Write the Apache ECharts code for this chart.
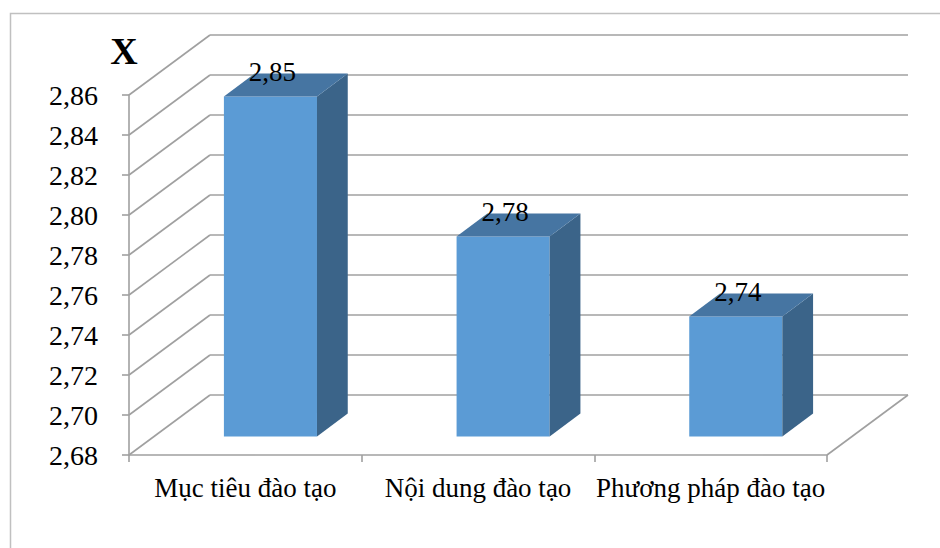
<!DOCTYPE html>
<html lang="vi">
<head>
    <meta charset="UTF-8">
    <title>Điểm trung bình</title>
    <script src="https://cdn.jsdelivr.net/npm/echarts/dist/echarts.min.js"></script>
    <style type="text/css">
        html, body { margin: 0; padding: 0; background: #fff; }
        #main { width: 940px; height: 548px; }
    </style>
</head>
<body>
<div id="main"></div>
<script>
    // du lieu
    var categories = ['Mục tiêu đào tạo', 'Nội dung đào tạo', 'Phương pháp đào tạo'];
    var scores = [2.85, 2.78, 2.74];
    var yTicks = [2.68, 2.70, 2.72, 2.74, 2.76, 2.78, 2.80, 2.82, 2.84, 2.86];

    // phep chieu 3D gia lap (do sau tinh bang pixel)
    var depthX = 81, depthY = -60;
    var barZ0 = 0.31, barZ1 = 0.69, barRatio = 0.4;
    var gridColor = '#a0a0a0';
    var fontFamily = 'Liberation Serif';

    function fmt(v) {
        return Number(v).toFixed(2).replace('.', ',');
    }

    var myChart = echarts.init(document.getElementById('main'), null, {renderer: 'svg'});

    // luoi: vach trai + tuong sau + san
    function renderWall(params, api) {
        var cs = params.coordSys;
        var v = api.value(1);
        var y = api.coord([0, v])[1];
        var x0 = cs.x, x1 = cs.x + cs.width;
        var style = {stroke: gridColor, lineWidth: 1.6, fill: null};
        var children = [
            {type: 'line', shape: {x1: x0, y1: y, x2: x0 + depthX, y2: y + depthY}, style: style},
            {type: 'line', shape: {x1: x0 + depthX, y1: y + depthY, x2: x1 + depthX, y2: y + depthY}, style: style}
        ];
        if (params.dataIndex === 0) {
            children.push({type: 'line', shape: {x1: x1, y1: y, x2: x1 + depthX, y2: y + depthY}, style: style});
        }
        return {type: 'group', children: children};
    }

    // cot 3D
    function renderBar(params, api) {
        var i = api.value(0);
        var v = api.value(1);
        var top = api.coord([i, v]);
        var base = api.coord([i, yTicks[0]]);
        var bw = api.size([1, 0])[0] * barRatio;
        var fx = top[0] - bw / 2 + depthX * barZ0;
        var fTop = top[1] + depthY * barZ0;
        var fBot = base[1] + depthY * barZ0;
        var ddx = depthX * (barZ1 - barZ0), ddy = depthY * (barZ1 - barZ0);
        return {
            type: 'group',
            children: [
                {type: 'rect', shape: {x: fx, y: fTop, width: bw, height: fBot - fTop},
                    style: {fill: '#5b9bd5'}},
                {type: 'polygon', shape: {points: [[fx + bw, fTop], [fx + bw + ddx, fTop + ddy],
                        [fx + bw + ddx, fBot + ddy], [fx + bw, fBot]]},
                    style: {fill: '#3b6489'}},
                {type: 'polygon', shape: {points: [[fx, fTop], [fx + ddx, fTop + ddy],
                        [fx + bw + ddx, fTop + ddy], [fx + bw, fTop]]},
                    style: {fill: '#4675a2'}},
                {type: 'text', x: fx + bw / 2 + 2, y: fTop - 24,
                    style: {text: fmt(v), fill: '#000', fontSize: 27, fontFamily: fontFamily,
                        align: 'center', verticalAlign: 'middle'}}
            ]
        };
    }

    var option = {
        backgroundColor: '#fff',
        animation: false,
        grid: {left: 129, right: 113, top: 95, bottom: 93},
        graphic: [
            {type: 'rect', shape: {x: 10.5, y: 13.5, width: 1000, height: 600},
                style: {fill: null, stroke: '#c0c0c0', lineWidth: 1.5}, silent: true},
            {type: 'text', x: 124, y: 51,
                style: {text: 'X', fill: '#000', fontSize: 38, fontWeight: 'bold', fontFamily: fontFamily,
                    align: 'center', verticalAlign: 'middle'}}
        ],
        xAxis: {
            type: 'category',
            data: categories,
            axisLine: {lineStyle: {color: gridColor, width: 1.6}},
            axisTick: {show: true, length: 7, lineStyle: {color: gridColor, width: 1.6}},
            axisLabel: {color: '#000', fontSize: 27, fontFamily: fontFamily, margin: 19, interval: 0},
            splitLine: {show: false}
        },
        yAxis: {
            type: 'value',
            min: yTicks[0],
            max: yTicks[yTicks.length - 1],
            interval: 0.02,
            axisLine: {show: true, lineStyle: {color: gridColor, width: 1.6}},
            axisTick: {show: true, length: 7, lineStyle: {color: gridColor, width: 1.6}},
            axisLabel: {color: '#000', fontSize: 28, fontFamily: fontFamily, margin: 31, formatter: fmt},
            splitLine: {show: false}
        },
        series: [
            {
                type: 'custom',
                z: 1,
                clip: false,
                silent: true,
                renderItem: renderWall,
                encode: {x: 0, y: 1},
                data: yTicks.map(function (t) { return [0, t]; })
            },
            {
                type: 'custom',
                z: 3,
                clip: false,
                renderItem: renderBar,
                encode: {x: 0, y: 1},
                data: scores.map(function (s, i) { return [i, s]; })
            }
        ]
    };
    myChart.setOption(option);
</script>
</body>
</html>
